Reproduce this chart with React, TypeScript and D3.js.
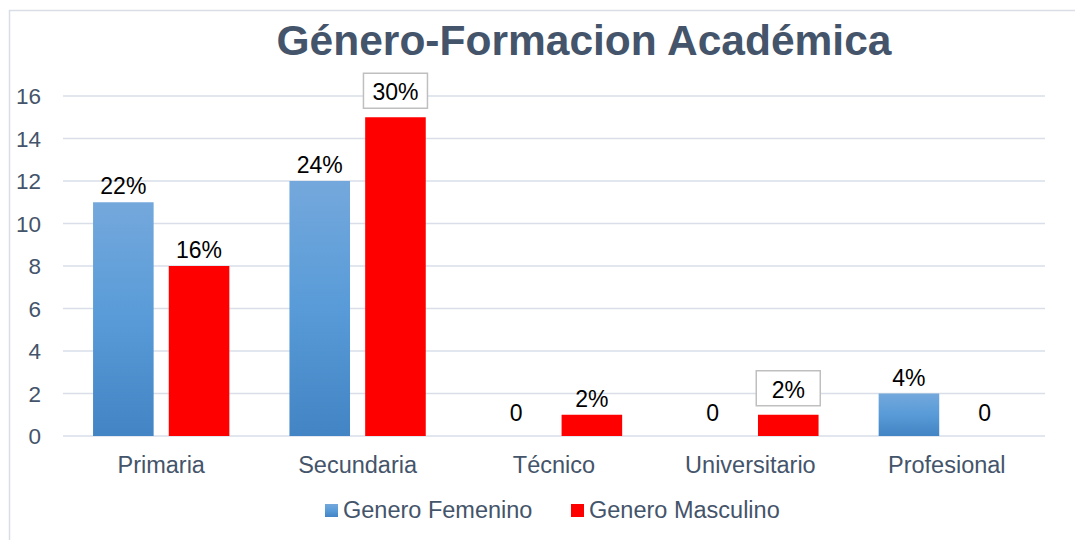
import React from "react";
import * as d3 from "d3";

const categories = ["Primaria", "Secundaria", "Técnico", "Universitario", "Profesional"];
const seriesNames = ["Genero Femenino", "Genero Masculino"];
const femenino = [11, 12, 0, 0, 2];
const masculino = [8, 15, 1, 1, 0];
const femLabels = ["22%", "24%", "0", "0", "4%"];
const mascLabels = ["16%", "30%", "2%", "2%", "0"];
const mascBoxed = [false, true, false, true, false];
const yTicks = [0, 2, 4, 6, 8, 10, 12, 14, 16];

const W = 1075;
const H = 540;
const plotLeft = 63;
const plotRight = 1045;
const plotTop = 96;
const plotBottom = 436;
const textColor = "#44546A";
const gridColor = "#D9DEE8";
const font = "'Liberation Sans', Arial, sans-serif";

export default function App() {
  const x0 = d3.scaleBand<string>().domain(categories).range([plotLeft, plotRight]).padding(0);
  const bw = x0.bandwidth();
  const x1 = d3
    .scaleBand<string>()
    .domain(seriesNames)
    .range([bw * 0.153, bw * 0.847])
    .paddingInner(0.2);
  const y = d3.scaleLinear().domain([0, 16]).range([plotBottom, plotTop]);

  const series = [
    { name: seriesNames[0], values: femenino, labels: femLabels, boxed: [false, false, false, false, false], fill: "url(#femGrad)" },
    { name: seriesNames[1], values: masculino, labels: mascLabels, boxed: mascBoxed, fill: "#FF0000" },
  ];

  return (
    <svg
      width={W}
      height={H}
      style={{ position: "absolute", left: 0, top: 0, background: "#fff" }}
      fontFamily={font}
    >
      <defs>
        <linearGradient id="femGrad" x1="0" y1="0" x2="0" y2="1">
          <stop offset="0%" stopColor="#74A8DC" />
          <stop offset="50%" stopColor="#589BD8" />
          <stop offset="100%" stopColor="#4384C4" />
        </linearGradient>
      </defs>
      <rect x={9.5} y={10.5} width={1080} height={540} fill="#fff" stroke="#D9DEE6" strokeWidth={1.5} />

      <text
        x={584}
        y={55}
        textAnchor="middle"
        fontSize={42.5}
        fontWeight="bold"
        fill={textColor}
      >
        Género-Formacion Académica
      </text>

      {yTicks.map((t) => (
        <g key={t}>
          <line x1={plotLeft} x2={plotRight} y1={y(t)} y2={y(t)} stroke={gridColor} strokeWidth={1.5} />
          <text x={41} y={y(t) + 8} textAnchor="end" fontSize={22.5} fill={textColor}>
            {t}
          </text>
        </g>
      ))}

      {categories.map((c, i) => (
        <g key={c}>
          {series.map((s) => {
            const v = s.values[i];
            const bx = (x0(c) as number) + (x1(s.name) as number);
            const bwid = x1.bandwidth();
            const top = y(v);
            const cx = bx + bwid / 2;
            const labelY = v === 0 ? y(v) - 15 : top - 8;
            return (
              <g key={s.name}>
                {v > 0 && <rect x={bx} y={top} width={bwid} height={y(0) - top} fill={s.fill} />}
                {s.boxed[i] && (
                  <rect
                    x={cx - 32}
                    y={top - 44}
                    width={64}
                    height={35}
                    fill="#fff"
                    stroke="#BFBFBF"
                    strokeWidth={1.5}
                  />
                )}
                <text
                  x={cx}
                  y={s.boxed[i] ? top - 17 : labelY}
                  textAnchor="middle"
                  fontSize={23}
                  fill="#000"
                >
                  {s.labels[i]}
                </text>
              </g>
            );
          })}
          <text
            x={(x0(c) as number) + bw / 2}
            y={473}
            textAnchor="middle"
            fontSize={23.5}
            fill={textColor}
          >
            {c}
          </text>
        </g>
      ))}

      <g>
        <rect x={325} y={504} width={13} height={13} fill="url(#femGrad)" />
        <text x={343} y={518} fontSize={23.5} fill={textColor}>
          {seriesNames[0]}
        </text>
        <rect x={571} y={504} width={13} height={13} fill="#FF0000" />
        <text x={589} y={518} fontSize={23.5} fill={textColor}>
          {seriesNames[1]}
        </text>
      </g>
    </svg>
  );
}
